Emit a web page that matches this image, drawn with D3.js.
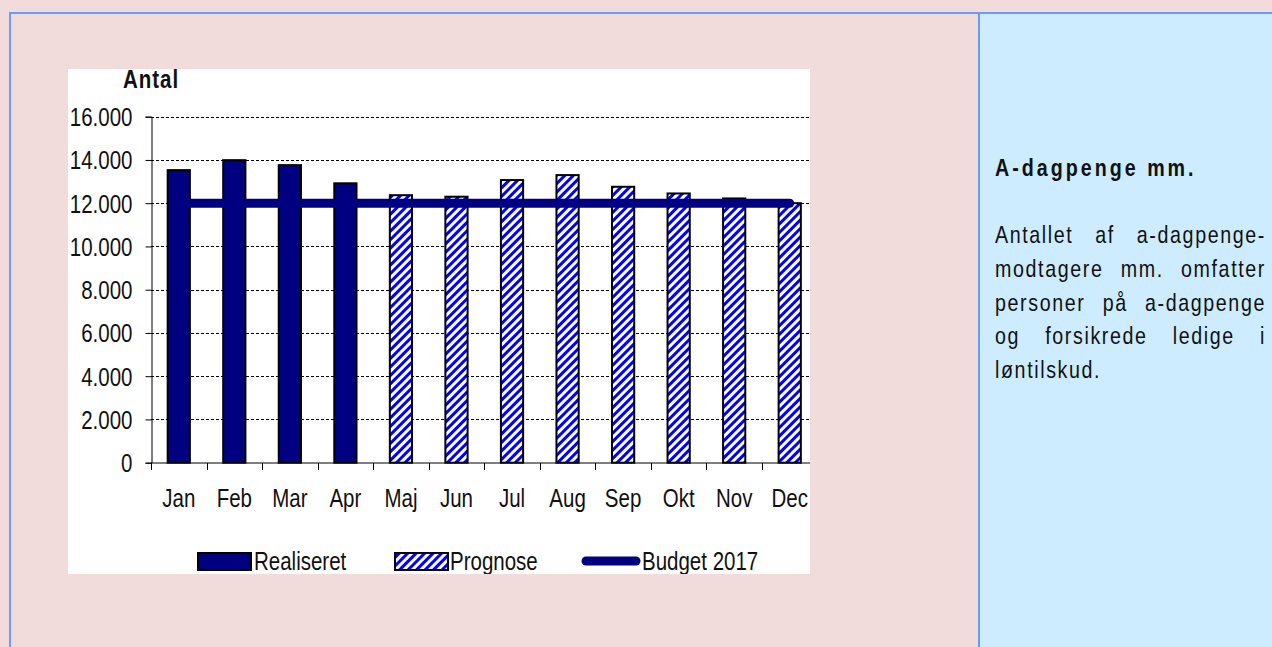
<!DOCTYPE html>
<html>
<head>
<meta charset="utf-8">
<script src="https://cdn.jsdelivr.net/npm/d3@7"></script>
<style>
body { margin: 0; background: #f2dcdb; }
svg { display: block; }
text { font-family: "Liberation Sans", Arial, sans-serif; fill: #111; }
</style>
</head>
<body>
<svg id="page" width="1272" height="647"></svg>
<script>
var months = ["Jan", "Feb", "Mar", "Apr", "Maj", "Jun", "Jul", "Aug", "Sep", "Okt", "Nov", "Dec"]
var realiseret = [13530, 13990, 13760, 12920, null, null, null, null, null, null, null, null]
var prognose = [null, null, null, null, 12370, 12300, 13070, 13300, 12760, 12450, 12220, 12000]
var budget = [12000, 12000, 12000, 12000, 12000, 12000, 12000, 12000, 12000, 12000, 12000, 12000]
var yTicks = [0, 2000, 4000, 6000, 8000, 10000, 12000, 14000, 16000]
var legendLabels = ["Realiseret", "Prognose", "Budget 2017"]
var yTitle = "Antal"
var boxTitle = "A-dagpenge mm."
var boxLines = [
	"Antallet af a-dagpenge-",
	"modtagere mm. omfatter",
	"personer på a-dagpenge",
	"og forsikrede ledige i",
	"løntilskud."
]

var navy = "#000080"
var sx = 0.82 // smal skrift (Arial Narrow-agtig)
var svg = d3.select("#page")

// tekst i smal skrift: skaleres vandret om ankerpunktet
function narrowText(parent, tx, ty) {
	return parent.append("text")
	.attr("transform", "translate(" + tx + "," + ty + ") scale(" + sx + ",1)")
}

// baggrund og rammer
svg.append("rect")
.attr("x", 979).attr("y", 13)
.attr("width", 293).attr("height", 634)
.attr("fill", "#cdecff")

svg.append("path")
.attr("d", "M9,13H1272M10,13V647M979,13V647")
.attr("stroke", "#6b9bff")
.attr("stroke-width", 2)
.attr("fill", "none")

var defs = svg.append("defs")

defs.append("clipPath")
.attr("id", "chartClip")
.append("rect")
.attr("x", 68).attr("y", 69)
.attr("width", 742).attr("height", 505)

var hatch = defs.append("pattern")
.attr("id", "hatch")
.attr("patternUnits", "userSpaceOnUse")
.attr("width", 6).attr("height", 6)
.attr("patternTransform", "rotate(45)")
hatch.append("rect")
.attr("width", 6).attr("height", 6)
.attr("fill", "#fff")
hatch.append("rect")
.attr("width", 3).attr("height", 6)
.attr("fill", "#0000ff")

var chart = svg.append("g")
.attr("clip-path", "url(#chartClip)")

chart.append("rect")
.attr("x", 68).attr("y", 69)
.attr("width", 742).attr("height", 505)
.attr("fill", "#fff")

var x = d3.scaleBand()
.domain(months)
.range([151, 817.5])
.paddingInner(0.6)
.paddingOuter(0.3)

var y = d3.scaleLinear()
.domain([0, 16000])
.range([462.7, 116.7])

var fmt = d => d3.format(",")(d).replace(/,/g, ".")

// gitterlinjer
chart.append("g")
.selectAll("line")
.data(yTicks.filter(d => d > 0))
.join("line")
.attr("x1", 151).attr("x2", 817)
.attr("y1", d => Math.round(y(d)) + 0.5)
.attr("y2", d => Math.round(y(d)) + 0.5)
.attr("stroke", "#000")
.attr("stroke-dasharray", "3,2")

// y-akse
var yAxis = chart.append("g")
.attr("transform", "translate(151.5,0)")
.call(d3.axisLeft(y).tickValues(yTicks).tickSize(6).tickPadding(13).tickFormat(fmt))
yAxis.select(".domain").attr("stroke", "#000")
yAxis.selectAll(".tick line").attr("stroke", "#000")
yAxis.selectAll(".tick text")
.attr("font-size", 25)
.attr("font-family", null)
.attr("fill", "#222")
.attr("x", -19 / sx)
.attr("dy", "0.36em")
.attr("transform", "scale(" + sx + ",1)")

// x-akse
var step = x.step()
chart.append("line")
.attr("x1", 151).attr("x2", 817)
.attr("y1", 463).attr("y2", 463)
.attr("stroke", "#000")

chart.append("g")
.selectAll("line")
.data(months)
.join("line")
.attr("x1", d => Math.round(x(d) - step * x.paddingOuter()) + 0.5)
.attr("x2", d => Math.round(x(d) - step * x.paddingOuter()) + 0.5)
.attr("y1", 463).attr("y2", 470)
.attr("stroke", "#000")

months.forEach(m => {
	narrowText(chart, x(m) + x.bandwidth() / 2, 506.5)
	.attr("text-anchor", "middle")
	.attr("font-size", 25)
	.attr("fill", "#222")
	.text(m)
})

// søjler
chart.append("g")
.selectAll("rect")
.data(months.map((m, i) => ({ m: m, v: realiseret[i] })).filter(d => d.v != null))
.join("rect")
.attr("x", d => x(d.m))
.attr("y", d => y(d.v))
.attr("width", x.bandwidth())
.attr("height", d => y(0) - y(d.v))
.attr("fill", navy)
.attr("stroke", "#000")
.attr("stroke-width", 2)

chart.append("g")
.selectAll("rect")
.data(months.map((m, i) => ({ m: m, v: prognose[i] })).filter(d => d.v != null))
.join("rect")
.attr("x", d => x(d.m))
.attr("y", d => y(d.v))
.attr("width", x.bandwidth())
.attr("height", d => y(0) - y(d.v))
.attr("fill", "url(#hatch)")
.attr("stroke", "#000")
.attr("stroke-width", 2)

// budgetlinje
var line = d3.line()
.x((d, i) => x(months[i]) + x.bandwidth() / 2)
.y(d => y(d))

chart.append("path")
.datum(budget)
.attr("d", line)
.attr("fill", "none")
.attr("stroke", navy)
.attr("stroke-width", 9)
.attr("stroke-linecap", "round")

narrowText(chart, 123, 88)
.attr("font-size", 25)
.attr("font-weight", "bold")
.attr("letter-spacing", 1.2)
.text(yTitle)

// signaturforklaring
var legend = chart.append("g")
legend.append("rect")
.attr("x", 198).attr("y", 553)
.attr("width", 53).attr("height", 17)
.attr("fill", navy)
.attr("stroke", "#000")
.attr("stroke-width", 2)
legend.append("rect")
.attr("x", 395).attr("y", 553)
.attr("width", 53).attr("height", 17)
.attr("fill", "url(#hatch)")
.attr("stroke", "#000")
.attr("stroke-width", 2)
legend.append("line")
.attr("x1", 586).attr("x2", 636)
.attr("y1", 561).attr("y2", 561)
.attr("stroke", navy)
.attr("stroke-width", 9)
.attr("stroke-linecap", "round")

legendLabels.forEach((d, i) => {
	narrowText(legend, [254, 450, 642][i], 570)
	.attr("font-size", 25)
	.attr("fill", "#222")
	.text(d)
})

// tekstboks til højre
narrowText(svg, 995, 176)
.attr("font-size", 24)
.attr("font-weight", "bold")
.attr("letter-spacing", 3 / sx)
.text(boxTitle)

function justify(str, x0, x1, yPos, last) {
	let words = str.split(" ")
	let g = svg.append("g")
	.attr("transform", "translate(" + x0 + "," + yPos + ") scale(" + sx + ",1)")
	let texts = words.map(w => g.append("text")
		.attr("font-size", 24)
		.attr("letter-spacing", 1.6 / sx)
		.text(w))
	let widths = texts.map(t => t.node().getComputedTextLength())
	let span = (x1 - x0) / sx
	let total = d3.sum(widths)
	let gap = last || words.length < 2 ? 8 : (span - total) / (words.length - 1)
	let pos = 0
	texts.forEach((t, i) => {
		t.attr("x", pos)
		pos += widths[i] + gap
	})
}

boxLines.forEach((l, i) => justify(l, 995, 1266, 243.3 + i * 33.7, i == boxLines.length - 1))
</script>
</body>
</html>
